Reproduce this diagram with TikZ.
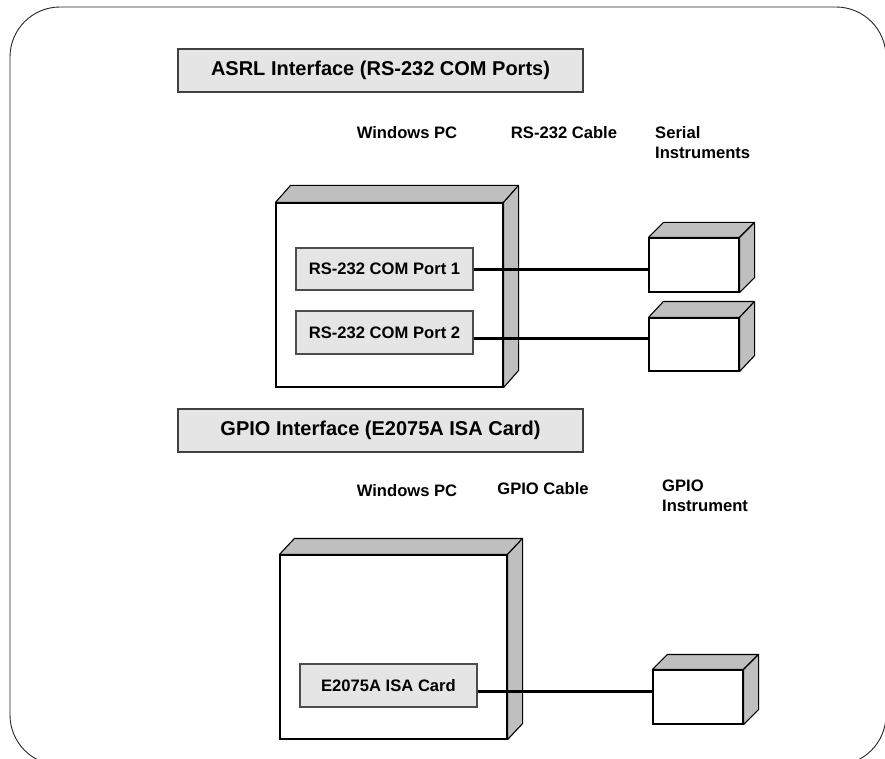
\documentclass[tikz,border=0pt]{standalone}
\usepackage{fontspec}
\setmainfont{Liberation Sans}
\begin{document}
\begin{tikzpicture}[x=1pt,y=-1pt,
  every node/.style={font=\bfseries\fontsize{16.6}{20}\selectfont, inner sep=0pt},
  titlebox/.style={draw=black!75, line width=1.1pt, fill=black!10, minimum width=405, minimum height=43, font=\bfseries\fontsize{20}{24}\selectfont},
  portbox/.style={draw=black!70, line width=1.1pt, fill=black!10, minimum width=177, minimum height=43},
  frontface/.style={draw=black, line width=1.1pt, fill=white},
  depthface/.style={draw=black, line width=1.1pt, fill=black!25, line join=round},
  cable/.style={line width=3pt, black},
  label/.style={anchor=center},
  frame/.style={draw=black!85, line width=0.9pt, rounded corners=50}
]
\useasboundingbox (0,0) rectangle (885,759);
\clip (0,0) rectangle (885,759);
\fill[white] (0,0) rectangle (885,759);
\draw[frame] (10,7) rectangle (886,765);

% titles
\node[titlebox] (t1) at (380.5,70.5) {ASRL Interface (RS-232 COM Ports)};
\node[titlebox] (t2) at (380.5,430.5) {GPIO Interface (E2075A ISA Card)};

% labels section 1
\node[label] (l1) at (407,133) {Windows PC};
\node[label] (l2) at (564,133) {RS-232 Cable};
\node[anchor=north west, align=left] (l3) at (655,126) {Serial\\Instruments};

% labels section 2
\node[label] (l4) at (407,491) {Windows PC};
\node[label] (l5) at (543,489) {GPIO Cable};
\node[anchor=north west, align=left] (l6) at (662,480) {GPIO\\Instrument};

% PC 1
\node[frontface, minimum width=227, minimum height=184] (pc1) at (389.5,295) {};
\draw[depthface] (pc1.north west) -- ++(15,-17) -- ([shift={(15,-17)}]pc1.north east) -- (pc1.north east) -- cycle;
\draw[depthface] (pc1.north east) -- ++(15,-17) -- ([shift={(15,-17)}]pc1.south east) -- (pc1.south east) -- cycle;
\node[portbox, minimum height=42] (p1) at (384.5,269) {RS-232 COM Port 1};
\node[portbox] (p2) at (384.5,332.5) {RS-232 COM Port 2};

% instruments 1,2
\node[frontface, minimum width=90, minimum height=54] (i1) at (694,265) {};
\draw[depthface] (i1.north west) -- ++(15,-15) -- ([shift={(15,-15)}]i1.north east) -- (i1.north east) -- cycle;
\draw[depthface] (i1.north east) -- ++(15,-15) -- ([shift={(15,-15)}]i1.south east) -- (i1.south east) -- cycle;
\node[frontface, minimum width=90, minimum height=53] (i2) at (694,344.5) {};
\draw[depthface] (i2.north west) -- ++(15,-16) -- ([shift={(15,-16)}]i2.north east) -- (i2.north east) -- cycle;
\draw[depthface] (i2.north east) -- ++(15,-16) -- ([shift={(15,-16)}]i2.south east) -- (i2.south east) -- cycle;

% cables 1,2
\draw[cable] (p1.east) -- (p1.east -| i1.west);
\draw[cable] ([yshift=-5.5]p2.east) -- ([yshift=-5.5]p2.east -| i2.west);

% PC 2
\node[frontface, minimum width=227, minimum height=184] (pc2) at (393.5,647) {};
\draw[depthface] (pc2.north west) -- ++(15,-16) -- ([shift={(15,-16)}]pc2.north east) -- (pc2.north east) -- cycle;
\draw[depthface] (pc2.north east) -- ++(15,-16) -- ([shift={(15,-16)}]pc2.south east) -- (pc2.south east) -- cycle;
\node[portbox] (c1) at (388.5,685.5) {E2075A ISA Card};

% instrument 3
\node[frontface, minimum width=90, minimum height=54] (i3) at (698,697) {};
\draw[depthface] (i3.north west) -- ++(15,-15) -- ([shift={(15,-15)}]i3.north east) -- (i3.north east) -- cycle;
\draw[depthface] (i3.north east) -- ++(15,-15) -- ([shift={(15,-15)}]i3.south east) -- (i3.south east) -- cycle;

\draw[cable] ([yshift=-5.5]c1.east) -- ([yshift=-5.5]c1.east -| i3.west);
\end{tikzpicture}
\end{document}
